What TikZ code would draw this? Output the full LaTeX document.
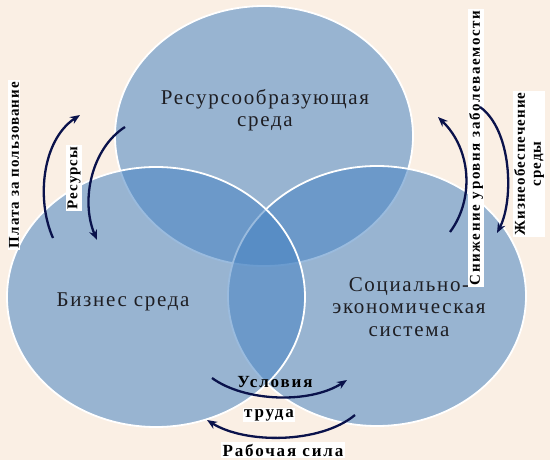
\documentclass[tikz,border=0pt]{standalone}
\usepackage{fontspec}
\setmainfont{Liberation Serif}
\newfontfamily\vennfont[LetterSpace=8]{Liberation Serif}
\newfontfamily\lblfont[LetterSpace=7]{Liberation Serif}
\newfontfamily\lblwidefont[LetterSpace=11]{Liberation Serif}
\usetikzlibrary{arrows.meta,shapes.geometric}
\definecolor{bgc}{RGB}{250,239,228}
\definecolor{ellc}{RGB}{72,132,195}
\definecolor{arrc}{RGB}{10,18,75}
\definecolor{txtc}{RGB}{30,30,35}
\tikzset{
  venn/.style={ellipse, fill=ellc, fill opacity=0.55, draw=white, draw opacity=1, line width=1.8pt, minimum width=298pt, minimum height=260pt, inner sep=0pt},
  maintext/.style={text=txtc, font=\vennfont\fontsize{21}{22.5}\selectfont, align=center, inner sep=0pt},
  flowlabel/.style={fill=white, text=black, font=\lblfont\bfseries\fontsize{15}{16}\selectfont, inner sep=1.5pt, align=center},
  widelabel/.style={flowlabel, font=\lblwidefont\bfseries\fontsize{15}{16}\selectfont},
  bottomlabel/.style={flowlabel, font=\lblwidefont\bfseries\fontsize{17}{18}\selectfont},
  flow/.style={draw=arrc, line width=2.3pt, -{Stealth[length=10pt,width=8pt]}}
}
\begin{document}
\begin{tikzpicture}[x=1pt,y=-1pt]
\fill[bgc] (0,0) rectangle (550,460);
\useasboundingbox (0,0) rectangle (550,460);
% ellipses
\node[venn] (res) at (264,136) {};
\node[venn] (soc) at (377,296) {};
\node[venn] (biz) at (156,297) {};
% texts in ellipses
\node[maintext] (tres) at (265,110) {Ресурсообразующая\\среда};
\node[maintext] (tbiz) at (123,302) {Бизнес среда};
\node[maintext] (tsoc) at (409,307) {Социально-\\экономическая\\система};
% flow labels
\node[flowlabel, rotate=90] (lplata) at (14,165) {Плата за пользование};
\node[flowlabel, rotate=90] (lres) at (74,178) {Ресурсы};
\node[widelabel, rotate=90] (lsnij) at (476,148) {Снижение уровня заболеваемости};
\node[flowlabel, rotate=90] (ljiz) at (529,164) {Жизнеобеспечение\\среды};
\node[bottomlabel, fill=none] (lusl) at (275,382) {Условия};
\node[bottomlabel] (ltrud) at (269,415) {труда};
\node[bottomlabel] (lrab) at (283,450) {Рабочая сила};
% arrow endpoints
\coordinate (a1s) at (53,238); \coordinate (a1e) at (80,115);
\coordinate (a2s) at (125,127); \coordinate (a2e) at (97,240);
\coordinate (a3s) at (450,232); \coordinate (a3e) at (438,117);
\coordinate (a4s) at (480,107); \coordinate (a4e) at (497,233);
\coordinate (a5s) at (212,378); \coordinate (a5e) at (347,380);
\coordinate (a6s) at (355,415); \coordinate (a6e) at (207,420);
\draw[flow] (a1s) .. controls (36,200) and (42,140) .. (a1e);
\draw[flow] (a2s) .. controls (92,148) and (80,200) .. (a2e);
\draw[flow] (a3s) .. controls (474,200) and (472,150) .. (a3e);
\draw[flow] (a4s) .. controls (512,130) and (514,200) .. (a4e);
\draw[flow] (a5s) .. controls (245,402) and (310,404) .. (a5e);
\draw[flow] (a6s) .. controls (320,444) and (245,444) .. (a6e);
\end{tikzpicture}
\end{document}
